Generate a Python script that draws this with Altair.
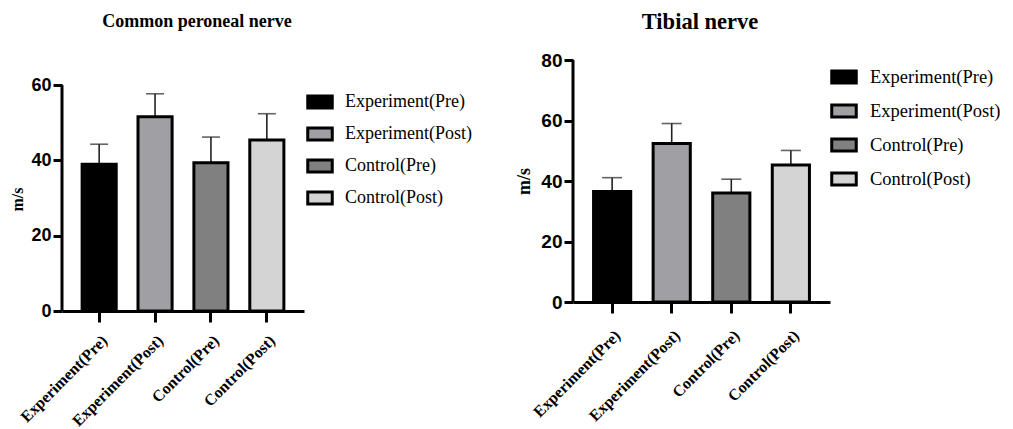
import altair as alt
import pandas as pd

categories = ["Experiment(Pre)", "Experiment(Post)", "Control(Pre)", "Control(Post)"]
colors = ["#000000", "#a0a0a4", "#808080", "#d4d4d4"]

cpn_mean = [39.0, 51.6, 39.4, 45.4]
cpn_sd = [5.3, 6.1, 6.8, 7.0]

tib_mean = [36.5, 52.4, 36.0, 45.3]
tib_sd = [4.6, 6.6, 4.6, 4.8]

SERIF = "Liberation Serif"
SANS = "Liberation Sans"


def panel(title, title_size, title_offset, title_dx, means, sds, ytop, yscale_max,
          yvals, w, h, pin, pout, tick_fs, ytitle_fs, ytitle_x, ytitle_y,
          xlab_fs, xlab_pad, leg_fs, leg_x, leg_y, row_pad, label_off, cap):
    df = pd.DataFrame({"cat": categories, "mean": means,
                       "top": [m + s for m, s in zip(means, sds)]})
    x = alt.X("cat:N", sort=categories,
              scale=alt.Scale(paddingInner=pin, paddingOuter=pout),
              axis=alt.Axis(title=None, labelAngle=-45, labelFont=SERIF,
                            labelFontWeight="bold", labelFontSize=xlab_fs,
                            labelColor="black", domainColor="black",
                            tickColor="black", domainWidth=3, tickWidth=3,
                            tickSize=11, labelPadding=xlab_pad))
    yscale = alt.Scale(domain=[0, yscale_max], nice=False)
    yaxis = alt.Axis(values=yvals, grid=False, domain=False, tickWidth=3,
                     tickSize=9, tickColor="black",
                     labelFont=SANS, labelFontWeight="bold",
                     labelFontSize=tick_fs, labelColor="black", labelPadding=2,
                     title="m/s", titleFont=SERIF, titleFontWeight="bold",
                     titleFontSize=ytitle_fs, titleColor="black",
                     titleX=ytitle_x, titleY=ytitle_y)
    base = alt.Chart(df)
    yline = alt.Chart(pd.DataFrame({"lo": [0], "hi": [ytop]})).mark_rule(
        color="black", strokeWidth=3).encode(
        x=alt.value(0), y=alt.Y("lo:Q", scale=yscale, axis=yaxis), y2="hi:Q")
    rule = base.mark_rule(color="#222222", strokeWidth=1.6).encode(
        x=x, y=alt.Y("mean:Q", scale=yscale, axis=yaxis), y2="top:Q")
    capm = base.mark_tick(color="#222222", thickness=1.6, size=cap).encode(
        x=x, y=alt.Y("top:Q", scale=yscale, axis=yaxis))
    bars = base.mark_bar(stroke="black", strokeWidth=3).encode(
        x=x,
        y=alt.Y("mean:Q", scale=yscale, axis=yaxis),
        color=alt.Color("cat:N", sort=categories,
                        scale=alt.Scale(domain=categories, range=colors),
                        legend=alt.Legend(title=None, orient="none",
                                          legendX=leg_x, legendY=leg_y,
                                          symbolType="M-1,-0.5H1V0.5H-1Z",
                                          symbolSize=600,
                                          symbolStrokeColor="black",
                                          symbolStrokeWidth=3,
                                          labelFont=SERIF,
                                          labelFontSize=leg_fs,
                                          labelColor="black",
                                          labelOffset=label_off,
                                          rowPadding=row_pad,
                                          labelLimit=300)))
    return alt.layer(yline, rule, capm, bars).properties(
        width=w, height=h,
        title=alt.TitleParams(title, font=SERIF, fontWeight="bold",
                              fontSize=title_size, color="black",
                              offset=title_offset, anchor="middle",
                              dx=title_dx))


left = panel("Common peroneal nerve", 18, 29, 14, cpn_mean, cpn_sd, 60, 66.67,
             [0, 20, 40, 60], 242, 251, 0.39, 0.36, 18, 16, -37, 139,
             16, 10, 18, 244, 28, 5, 11, 18)
right = panel("Tibial nerve", 22.5, 18, -1.5, tib_mean, tib_sd, 80, 80,
              [0, 20, 40, 60, 80], 257, 242, 0.376, 0.345, 19, 18, -40, 121,
              16, 14, 18.5, 257, 3, 7, 12, 20)

chart = alt.hconcat(left, right, spacing=269, bounds="flush").resolve_scale(
    color="independent").properties(
    padding={"left": 1, "top": 2, "right": 0, "bottom": 0},
    background="white").configure_view(stroke=None)

chart.save("out.html", embed_options={"renderer": "svg", "actions": False})
